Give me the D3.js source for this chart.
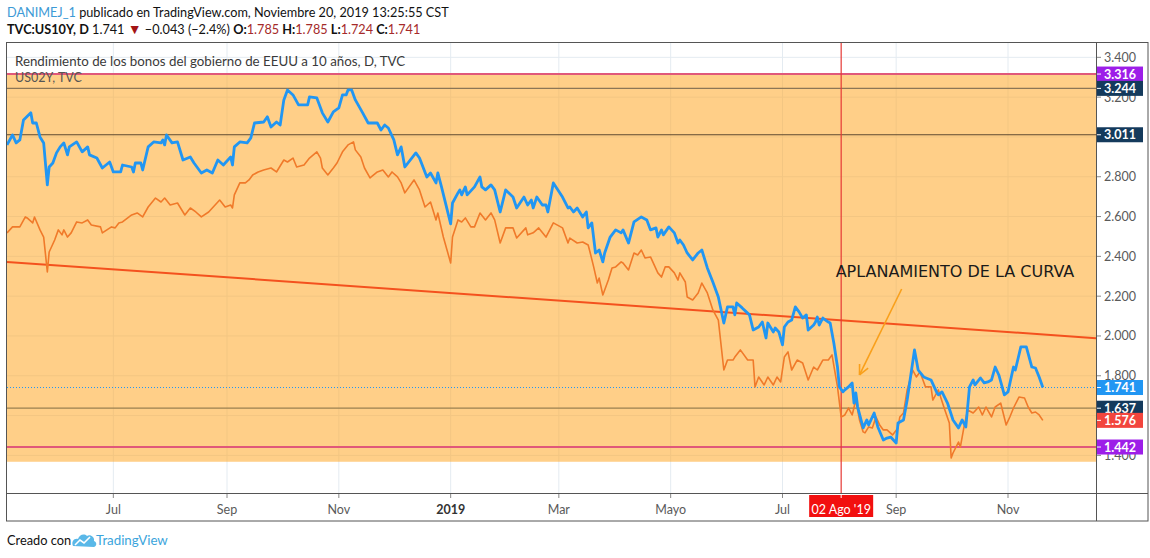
<!DOCTYPE html>
<html><head><meta charset="utf-8">
<script src="https://cdn.jsdelivr.net/npm/d3@7"></script>
<style>body{margin:0;background:#fff}svg{display:block}</style>
</head><body><svg id="c" width="1150" height="558"></svg>
<script>
// ---- DATA ----
const blueDates=["2018-05-04","2018-05-07","2018-05-09","2018-05-11","2018-05-13","2018-05-17","2018-05-18","2018-05-20","2018-05-22","2018-05-24","2018-05-26","2018-05-27","2018-05-29","2018-05-31","2018-06-02","2018-06-04","2018-06-06","2018-06-07","2018-06-11","2018-06-14","2018-06-17","2018-06-18","2018-06-22","2018-06-25","2018-06-29","2018-07-01","2018-07-05","2018-07-06","2018-07-11","2018-07-12","2018-07-13","2018-07-16","2018-07-17","2018-07-20","2018-07-23","2018-07-27","2018-07-28","2018-07-29","2018-07-30","2018-08-02","2018-08-05","2018-08-08","2018-08-12","2018-08-14","2018-08-18","2018-08-21","2018-08-24","2018-08-27","2018-08-30","2018-09-03","2018-09-04","2018-09-05","2018-09-08","2018-09-12","2018-09-14","2018-09-16","2018-09-21","2018-09-23","2018-09-25","2018-09-28","2018-09-30","2018-10-02","2018-10-04","2018-10-07","2018-10-10","2018-10-15","2018-10-16","2018-10-20","2018-10-23","2018-10-26","2018-10-29","2018-11-01","2018-11-03","2018-11-05","2018-11-06","2018-11-08","2018-11-10","2018-11-14","2018-11-17","2018-11-22","2018-11-24","2018-11-26","2018-11-28","2018-12-01","2018-12-03","2018-12-05","2018-12-07","2018-12-13","2018-12-15","2018-12-19","2018-12-21","2018-12-24","2018-12-25","2018-12-27","2019-01-01","2019-01-02","2019-01-05","2019-01-06","2019-01-07","2019-01-09","2019-01-10","2019-01-14","2019-01-17","2019-01-18","2019-01-20","2019-01-23","2019-01-25","2019-01-28","2019-01-31","2019-02-04","2019-02-06","2019-02-10","2019-02-12","2019-02-14","2019-02-15","2019-02-17","2019-02-20","2019-02-22","2019-02-23","2019-02-26","2019-03-03","2019-03-06","2019-03-07","2019-03-09","2019-03-11","2019-03-14","2019-03-16","2019-03-17","2019-03-19","2019-03-21","2019-03-23","2019-03-25","2019-03-26","2019-03-29","2019-04-01","2019-04-04","2019-04-05","2019-04-08","2019-04-11","2019-04-15","2019-04-18","2019-04-20","2019-04-23","2019-04-24","2019-04-26","2019-04-27","2019-04-30","2019-05-03","2019-05-05","2019-05-06","2019-05-08","2019-05-10","2019-05-13","2019-05-16","2019-05-18","2019-05-21","2019-05-24","2019-05-27","2019-05-30","2019-06-01","2019-06-04","2019-06-05","2019-06-06","2019-06-09","2019-06-13","2019-06-15","2019-06-18","2019-06-20","2019-06-22","2019-06-23","2019-06-26","2019-06-27","2019-06-29","2019-07-01","2019-07-02","2019-07-04","2019-07-06","2019-07-08","2019-07-10","2019-07-12","2019-07-14","2019-07-15","2019-07-18","2019-07-19","2019-07-20","2019-07-21","2019-07-23","2019-07-26","2019-07-27","2019-07-29","2019-07-31","2019-08-01","2019-08-03","2019-08-04","2019-08-06","2019-08-08","2019-08-09","2019-08-10","2019-08-11","2019-08-14","2019-08-16","2019-08-17","2019-08-20","2019-08-22","2019-08-25","2019-08-27","2019-08-29","2019-09-01","2019-09-02","2019-09-05","2019-09-07","2019-09-11","2019-09-13","2019-09-16","2019-09-20","2019-09-23","2019-09-24","2019-09-26","2019-09-29","2019-10-02","2019-10-05","2019-10-07","2019-10-09","2019-10-11","2019-10-13","2019-10-14","2019-10-17","2019-10-19","2019-10-21","2019-10-23","2019-10-25","2019-10-27","2019-10-30","2019-11-01","2019-11-04","2019-11-05","2019-11-08","2019-11-11","2019-11-14","2019-11-16","2019-11-18","2019-11-20"];
const blueValues=[2.960,3.010,2.970,2.985,3.085,3.121,3.070,3.070,3.000,2.970,2.759,2.849,2.869,2.920,2.950,2.970,2.910,2.950,2.975,2.925,2.950,2.910,2.894,2.844,2.874,2.824,2.824,2.859,2.849,2.824,2.869,2.869,2.834,2.950,2.975,2.970,2.985,2.960,3.010,2.970,2.975,2.884,2.899,2.869,2.819,2.834,2.819,2.884,2.859,2.899,2.859,2.950,2.975,2.970,2.995,3.070,3.075,3.101,3.050,3.075,3.060,3.186,3.236,3.211,3.161,3.161,3.201,3.196,3.121,3.075,3.126,3.146,3.211,3.211,3.236,3.236,3.186,3.121,3.070,3.070,3.035,3.060,3.045,2.985,2.910,2.950,2.849,2.920,2.894,2.799,2.819,2.769,2.819,2.749,2.563,2.668,2.719,2.734,2.709,2.749,2.709,2.749,2.799,2.749,2.734,2.759,2.734,2.623,2.734,2.698,2.643,2.698,2.658,2.683,2.643,2.698,2.658,2.658,2.623,2.769,2.698,2.643,2.648,2.623,2.643,2.598,2.623,2.543,2.568,2.417,2.432,2.372,2.417,2.497,2.533,2.518,2.533,2.467,2.573,2.598,2.583,2.533,2.543,2.497,2.533,2.508,2.548,2.518,2.467,2.482,2.457,2.417,2.382,2.417,2.432,2.342,2.271,2.196,2.065,2.146,2.146,2.106,2.166,2.141,2.106,2.030,2.045,2.070,1.990,2.065,2.020,2.040,2.020,1.955,2.045,2.070,2.080,2.146,2.121,2.090,2.106,2.030,2.055,2.070,2.095,2.055,2.090,2.070,2.065,1.965,1.844,1.744,1.719,1.729,1.744,1.764,1.663,1.714,1.643,1.538,1.578,1.553,1.613,1.543,1.477,1.487,1.492,1.462,1.563,1.578,1.678,1.930,1.829,1.794,1.779,1.719,1.704,1.719,1.663,1.578,1.538,1.578,1.543,1.744,1.779,1.754,1.789,1.764,1.769,1.779,1.844,1.804,1.704,1.719,1.844,1.829,1.945,1.945,1.844,1.839,1.794,1.741];
const orangeDates=["2018-05-04","2018-05-07","2018-05-11","2018-05-14","2018-05-15","2018-05-18","2018-05-19","2018-05-22","2018-05-24","2018-05-26","2018-05-27","2018-05-30","2018-06-01","2018-06-03","2018-06-04","2018-06-06","2018-06-08","2018-06-11","2018-06-14","2018-06-17","2018-06-19","2018-06-24","2018-06-25","2018-06-30","2018-07-02","2018-07-04","2018-07-06","2018-07-11","2018-07-14","2018-07-17","2018-07-20","2018-07-24","2018-07-27","2018-07-29","2018-08-01","2018-08-05","2018-08-09","2018-08-12","2018-08-15","2018-08-18","2018-08-22","2018-08-28","2018-08-31","2018-09-03","2018-09-04","2018-09-05","2018-09-08","2018-09-11","2018-09-13","2018-09-15","2018-09-18","2018-09-21","2018-09-25","2018-09-28","2018-10-02","2018-10-04","2018-10-07","2018-10-09","2018-10-13","2018-10-16","2018-10-20","2018-10-22","2018-10-23","2018-10-26","2018-10-29","2018-10-31","2018-11-03","2018-11-06","2018-11-09","2018-11-10","2018-11-13","2018-11-15","2018-11-18","2018-11-22","2018-11-25","2018-11-28","2018-11-30","2018-12-03","2018-12-05","2018-12-07","2018-12-12","2018-12-15","2018-12-18","2018-12-21","2018-12-24","2018-12-25","2018-12-28","2019-01-01","2019-01-02","2019-01-05","2019-01-07","2019-01-09","2019-01-12","2019-01-14","2019-01-17","2019-01-20","2019-01-23","2019-01-25","2019-01-28","2019-01-31","2019-02-04","2019-02-06","2019-02-11","2019-02-12","2019-02-15","2019-02-18","2019-02-22","2019-02-26","2019-03-03","2019-03-06","2019-03-07","2019-03-11","2019-03-14","2019-03-17","2019-03-18","2019-03-20","2019-03-22","2019-03-23","2019-03-25","2019-03-28","2019-03-30","2019-04-01","2019-04-04","2019-04-05","2019-04-08","2019-04-11","2019-04-13","2019-04-15","2019-04-17","2019-04-20","2019-04-24","2019-04-26","2019-04-28","2019-04-30","2019-05-03","2019-05-05","2019-05-06","2019-05-09","2019-05-10","2019-05-13","2019-05-16","2019-05-18","2019-05-21","2019-05-24","2019-05-27","2019-05-30","2019-06-01","2019-06-04","2019-06-05","2019-06-08","2019-06-12","2019-06-15","2019-06-16","2019-06-18","2019-06-21","2019-06-23","2019-06-26","2019-06-28","2019-06-30","2019-07-02","2019-07-04","2019-07-06","2019-07-09","2019-07-12","2019-07-15","2019-07-18","2019-07-20","2019-07-23","2019-07-26","2019-07-28","2019-07-31","2019-08-02","2019-08-04","2019-08-06","2019-08-08","2019-08-10","2019-08-12","2019-08-14","2019-08-15","2019-08-17","2019-08-19","2019-08-21","2019-08-23","2019-08-25","2019-08-27","2019-08-30","2019-09-02","2019-09-03","2019-09-05","2019-09-07","2019-09-10","2019-09-12","2019-09-14","2019-09-17","2019-09-20","2019-09-21","2019-09-24","2019-09-27","2019-09-30","2019-10-01","2019-10-02","2019-10-05","2019-10-06","2019-10-08","2019-10-10","2019-10-13","2019-10-16","2019-10-18","2019-10-20","2019-10-23","2019-10-25","2019-10-28","2019-10-31","2019-11-02","2019-11-04","2019-11-07","2019-11-10","2019-11-12","2019-11-14","2019-11-16","2019-11-18","2019-11-20"];
const orangeValues=[2.518,2.548,2.548,2.598,2.593,2.568,2.598,2.533,2.497,2.322,2.422,2.482,2.533,2.508,2.533,2.497,2.518,2.573,2.568,2.583,2.558,2.548,2.518,2.548,2.543,2.568,2.573,2.608,2.618,2.598,2.648,2.693,2.673,2.693,2.658,2.668,2.608,2.643,2.623,2.598,2.623,2.683,2.648,2.658,2.643,2.709,2.769,2.769,2.784,2.809,2.824,2.834,2.844,2.824,2.884,2.874,2.894,2.849,2.859,2.894,2.925,2.894,2.844,2.809,2.844,2.869,2.925,2.960,2.975,2.935,2.899,2.844,2.794,2.824,2.834,2.799,2.824,2.799,2.769,2.719,2.784,2.734,2.648,2.673,2.583,2.618,2.497,2.367,2.497,2.583,2.573,2.593,2.548,2.548,2.618,2.583,2.618,2.583,2.467,2.543,2.543,2.492,2.543,2.508,2.518,2.543,2.497,2.568,2.543,2.467,2.492,2.467,2.472,2.457,2.422,2.347,2.266,2.291,2.206,2.281,2.342,2.347,2.372,2.367,2.332,2.417,2.407,2.432,2.392,2.397,2.317,2.296,2.347,2.347,2.317,2.281,2.317,2.271,2.196,2.181,2.216,2.266,2.216,2.131,2.080,1.829,1.879,1.879,1.894,1.930,1.879,1.879,1.744,1.794,1.754,1.794,1.754,1.794,1.769,1.894,1.920,1.829,1.879,1.864,1.779,1.844,1.829,1.879,1.879,1.905,1.744,1.593,1.603,1.638,1.603,1.678,1.578,1.518,1.513,1.543,1.538,1.593,1.553,1.528,1.528,1.503,1.538,1.593,1.613,1.729,1.829,1.794,1.819,1.744,1.744,1.678,1.729,1.643,1.563,1.387,1.412,1.467,1.442,1.543,1.628,1.613,1.643,1.603,1.643,1.593,1.643,1.663,1.553,1.593,1.638,1.693,1.688,1.643,1.613,1.618,1.603,1.576];
const xDomainDates=["2018-05-04","2019-12-19"];
const yDomainValues=[1.211,3.472];
const trendDates=["2018-05-04","2019-12-19"];
const trendValues=[2.372,1.989];
const zoneValues=[3.316,1.368];
const boundValues=[3.316,1.442];
const levelValues=[3.244,3.011,1.637];
const lastValue=1.741;
const markerDate="2019-08-02";
const markerLabel="02 Ago '19";
const xTickDates=["2018-07-01","2018-09-01","2018-11-01","2019-01-01","2019-03-01","2019-05-01","2019-07-01","2019-09-01","2019-11-01"];
const xTickLabels=["Jul","Sep","Nov","2019","Mar","Mayo","Jul","Sep","Nov"];
const yTickValues=[1.4,1.6,1.8,2.0,2.2,2.4,2.6,2.8,3.0,3.2,3.4];
const tagValues=[3.316,3.244,3.011,1.741,1.637,1.576,1.442];
const tagColors=["#9d1ee8","#143a5c","#143a5c","#2196f3","#143a5c","#f2453d","#9d1ee8"];
const noteText="APLANAMIENTO DE LA CURVA";
const noteDate="2019-07-30", noteValue=2.296;
const arrowDates=["2019-09-04","2019-08-12"], arrowValues=[2.236,1.804];

// ---- LAYOUT ----
const parse=d3.timeParse("%Y-%m-%d");
const L=7,R=1096,T=43,B=493,AX=521,RIGHT=1148;
const svg=d3.select("#c");
const x=d3.scaleTime().domain(xDomainDates.map(parse)).range([L,R]);
const y=d3.scaleLinear().domain(yDomainValues).range([B,T]);
const fmt=d3.format(".3f");

// header
const h1=svg.append("text").attr("x",7).attr("y",17).attr("font-family","Lato").attr("font-size",12.7);
h1.append("tspan").attr("fill","#3d9ad6").text("DANIMEJ_1");
h1.append("tspan").attr("fill","#111").text(" publicado en TradingView.com, Noviembre 20, 2019 13:25:55 CST");
const h2=svg.append("text").attr("x",7).attr("y",34).attr("font-family","Lato").attr("font-size",12.7).attr("fill","#111");
h2.append("tspan").attr("font-weight","bold").text("TVC:US10Y, D");
h2.append("tspan").text("  1.741 ");
h2.append("tspan").attr("fill","#a31515").attr("font-size",14).text("▼");
h2.append("tspan").text(" −0.043 (−2.4%) ");
[["O:","1.785"],["H:","1.785"],["L:","1.724"],["C:","1.741"]].forEach(([k,v],i)=>{
  h2.append("tspan").attr("font-weight","bold").text((i?" ":"")+k);
  h2.append("tspan").attr("fill","#a52a2a").text(v);
});

// clip
svg.append("clipPath").attr("id","pane").append("rect").attr("x",L).attr("y",T).attr("width",R-L).attr("height",B-T);
const pane=svg.append("g").attr("clip-path","url(#pane)");

// grid
pane.selectAll(".gx").data(xTickDates).join("line")
  .attr("x1",d=>x(parse(d))).attr("x2",d=>x(parse(d))).attr("y1",T).attr("y2",B)
  .attr("stroke","#e4ebf1").attr("stroke-width",1);
pane.selectAll(".gy").data(yTickValues).join("line")
  .attr("x1",L).attr("x2",R).attr("y1",d=>y(d)).attr("y2",d=>y(d))
  .attr("stroke","#e4ebf1").attr("stroke-width",1);

// zone rectangle
pane.append("rect").attr("x",x(parse(xDomainDates[0]))).attr("width",x(parse(xDomainDates[1]))-x(parse(xDomainDates[0])))
  .attr("y",y(zoneValues[0])).attr("height",y(zoneValues[1])-y(zoneValues[0]))
  .attr("fill","#ffa726").attr("fill-opacity",0.55);

// horizontal level lines
const levelColors=["#8c7656","#5e4a30","#9a8050"];
pane.selectAll(".lv").data(levelValues).join("line")
  .attr("x1",L).attr("x2",R).attr("y1",d=>y(d)).attr("y2",d=>y(d))
  .attr("stroke",(d,i)=>levelColors[i]).attr("stroke-width",1.2);
pane.selectAll(".bd").data(boundValues).join("line")
  .attr("x1",L).attr("x2",R).attr("y1",d=>y(d)).attr("y2",d=>y(d))
  .attr("stroke","#e0587a").attr("stroke-width",2);

// current value dotted
pane.append("line").attr("x1",L).attr("x2",R).attr("y1",y(lastValue)).attr("y2",y(lastValue))
  .attr("stroke","#2196f3").attr("stroke-width",1).attr("stroke-dasharray","1,2");

// trend line
pane.append("path").datum(trendDates.map((d,i)=>({date:parse(d),value:trendValues[i]})))
  .attr("d",d3.line().x(d=>x(d.date)).y(d=>y(d.value)))
  .attr("fill","none").attr("stroke","#f4511e").attr("stroke-width",2);

// marker vertical
const mx=x(parse(markerDate));
pane.append("line").attr("x1",mx).attr("x2",mx).attr("y1",T).attr("y2",B).attr("stroke","#e53935").attr("stroke-width",1.2);

// series
const line=d3.line().x(d=>x(d.date)).y(d=>y(d.value));
pane.append("path").datum(orangeDates.map((d,i)=>({date:parse(d),value:orangeValues[i]})))
  .attr("d",line).attr("fill","none").attr("stroke","#f07a2a").attr("stroke-width",1.6).attr("stroke-linejoin","round");
pane.append("path").datum(blueDates.map((d,i)=>({date:parse(d),value:blueValues[i]})))
  .attr("d",line).attr("fill","none").attr("stroke","#2196f3").attr("stroke-width",2.8).attr("stroke-linejoin","round");

// annotation
pane.append("text").attr("x",x(parse(noteDate))).attr("y",y(noteValue))
  .attr("font-family","DejaVu Sans").attr("font-size",16).attr("fill","#1a1a1a").text(noteText);
const ax1=x(parse(arrowDates[0])),ay1=y(arrowValues[0]),ax2=x(parse(arrowDates[1])),ay2=y(arrowValues[1]);
pane.append("line").attr("x1",ax1).attr("y1",ay1).attr("x2",ax2).attr("y2",ay2).attr("stroke","#f9a01b").attr("stroke-width",1.6);
const ang=Math.atan2(ay2-ay1,ax2-ax1), hl=11;
[0.45,-0.45].forEach(o=>{
  pane.append("line").attr("x1",ax2).attr("y1",ay2)
    .attr("x2",ax2-hl*Math.cos(ang+o)).attr("y2",ay2-hl*Math.sin(ang+o))
    .attr("stroke","#f9a01b").attr("stroke-width",1.6);
});

// pane titles
svg.append("text").attr("x",15).attr("y",66).attr("font-family","Lato").attr("font-size",13.3).attr("fill","#3a3a3a")
  .text("Rendimiento de los bonos del gobierno de EEUU a 10 años, D, TVC");
svg.append("text").attr("x",15).attr("y",82).attr("font-family","Lato").attr("font-size",12.5).attr("fill","#555")
  .text("US02Y, TVC");

// frame
const fr=svg.append("g").attr("stroke","#555").attr("stroke-width",1).attr("fill","none");
fr.append("rect").attr("x",6.5).attr("y",T-0.5).attr("width",RIGHT-6.5).attr("height",AX-T+0.5);
fr.append("line").attr("x1",6.5).attr("x2",RIGHT).attr("y1",B+0.5).attr("y2",B+0.5);
fr.append("line").attr("x1",R+0.5).attr("x2",R+0.5).attr("y1",T).attr("y2",AX);

// x axis
const xg=svg.append("g");
xg.selectAll("line").data(xTickDates).join("line")
  .attr("x1",d=>x(parse(d))).attr("x2",d=>x(parse(d))).attr("y1",B+1).attr("y2",B+5).attr("stroke","#888");
xg.selectAll("text").data(xTickDates).join("text")
  .attr("x",d=>x(parse(d))).attr("y",514).attr("text-anchor","middle")
  .attr("font-family","Lato").attr("font-size",12.5)
  .attr("fill",(d,i)=>xTickLabels[i]==="2019"?"#333":"#5a5a5a")
  .attr("font-weight",(d,i)=>xTickLabels[i]==="2019"?"bold":"normal")
  .text((d,i)=>xTickLabels[i]);
// marker label
xg.append("rect").attr("x",mx-32).attr("y",B+2).attr("width",64).attr("height",22).attr("fill","#f20f0f");
xg.append("line").attr("x1",mx).attr("x2",mx).attr("y1",B+1).attr("y2",B+5).attr("stroke","#fff");
xg.append("text").attr("x",mx).attr("y",514).attr("text-anchor","middle").attr("font-family","Lato").attr("font-size",12.5)
  .attr("fill","#fff").text(markerLabel);

// y axis (tick labels fully hidden behind a price tag are skipped)
const yg=svg.append("g");
const visibleTicks=yTickValues.filter(v=>!tagValues.some(t=>Math.abs(y(t)-y(v))<7.5));
yg.selectAll("line").data(yTickValues).join("line")
  .attr("x1",R+1).attr("x2",R+5).attr("y1",d=>y(d)).attr("y2",d=>y(d)).attr("stroke","#888");
yg.selectAll("text").data(visibleTicks).join("text")
  .attr("x",R+8).attr("y",d=>y(d)+4.5).attr("font-family","Lato").attr("font-size",12.5).attr("fill","#5a5a5a")
  .text(d=>fmt(d));
// tags
const tg=yg.selectAll(".tag").data(tagValues).join("g");
tg.append("rect").attr("x",R+1).attr("y",d=>y(d)-7.5).attr("width",46).attr("height",15).attr("fill",(d,i)=>tagColors[i]);
tg.append("line").attr("x1",R+1).attr("x2",R+5).attr("y1",d=>y(d)).attr("y2",d=>y(d)).attr("stroke","#fff");
tg.append("text").attr("x",R+8).attr("y",d=>y(d)+4.5).attr("font-family","Lato").attr("font-size",12.5).attr("font-weight","bold")
  .attr("fill","#fff").text(d=>fmt(d));

// footer
svg.append("text").attr("x",7).attr("y",545).attr("font-family","Lato").attr("font-size",12.8).attr("fill","#111").text("Creado con");
const logo=svg.append("g").attr("transform","translate(72,533)");
logo.append("path").attr("d","M1,13 C-1,9 2,5 6,6 C7,2 12,0 15,3 C18,1 23,4 22,8 C25,9 25,13 22,14 Z").attr("fill","#5ab8e8");
logo.append("path").attr("d","M3,12 L8,7 L12,10 L18,4").attr("fill","none").attr("stroke","#fff").attr("stroke-width",1.6);
svg.append("text").attr("x",96).attr("y",545).attr("font-family","Lato").attr("font-size",13.3).attr("fill","#3ba5dc").text("TradingView");
</script></body></html>
